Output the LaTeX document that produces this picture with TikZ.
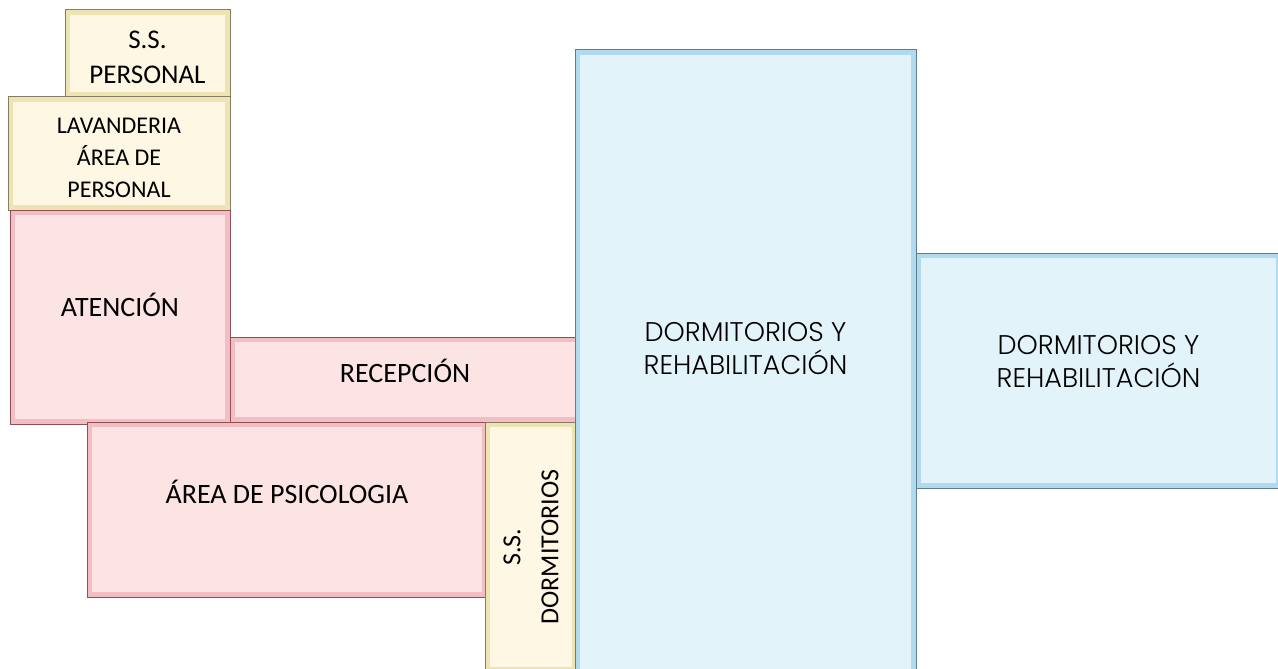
\documentclass[tikz,border=0pt]{standalone}
\usepackage{fontspec}
\setmainfont{Carlito}
\newfontfamily\gothic{Poppins Light}
\usetikzlibrary{positioning}

\definecolor{creamfill}{RGB}{253,247,227}
\definecolor{creamedge}{RGB}{238,228,178}
\definecolor{creamline}{RGB}{130,125,100}
\definecolor{pinkfill}{RGB}{252,228,229}
\definecolor{pinkedge}{RGB}{242,190,195}
\definecolor{pinkline}{RGB}{140,80,85}
\definecolor{bluefill}{RGB}{227,243,250}
\definecolor{blueedge}{RGB}{178,218,238}
\definecolor{blueline}{RGB}{95,125,140}

\begin{document}
\begin{tikzpicture}[x=1pt,y=-1pt,
    room/.style n args={3}{fill=#2,draw=#3,line width=1pt,anchor=north west,
      inner sep=0pt,outer sep=0pt,
      path picture={\fill[#1] ([shift={(5pt,-5pt)}]path picture bounding box.north west)
        rectangle ([shift={(-5pt,5pt)}]path picture bounding box.south east);}},
    yroom/.style={room={creamfill}{creamedge}{creamline}},
    proom/.style={room={pinkfill}{pinkedge}{pinkline}},
    broom/.style={room={bluefill}{blueedge}{blueline}},
    size/.style 2 args={minimum width=#1pt,minimum height=#2pt},
    lbl/.style={align=center,text=black,inner sep=0pt}
]
\useasboundingbox (0,0) rectangle (1278,669);

% rooms, left wing
\node[yroom,size={165}{87}] (ssper) at (65,10) {};
\node[yroom,size={222}{113}] (lav) at (8,97) {};
\node[proom,size={220}{214}] (aten) at (10,210) {};
\node[proom,size={350}{85}] (recep) at (230,337) {};
\node[proom,size={400}{175}] (psico) at (87,422) {};
\node[yroom,size={92}{250}] (ssdor) at (485,422) {};

% rooms, dormitories
\node[broom,size={341}{625}] (dorm) at (575,50) {};
\node[broom,size={365}{235}] (dormB) at (916,253) {};

% labels
\node[lbl,font=\fontsize{27}{35}\selectfont] (ssperT) at ([yshift=-4pt]ssper.center) {S.S.\\PERSONAL};
\node[lbl,font=\fontsize{24}{32}\selectfont] (lavT) at ([yshift=-4pt]lav.center) {LAVANDERIA\\ÁREA DE\\PERSONAL};
\node[lbl,font=\fontsize{28}{32}\selectfont] (atenT) at ([yshift=12pt]aten.center) {ATENCIÓN};
\node[lbl,font=\fontsize{28}{32}\selectfont] (recepT) at ([yshift=9pt]recep.center) {RECEPCIÓN};
\node[lbl,font=\fontsize{28}{32}\selectfont] (psicoT) at ([yshift=18pt]psico.center) {ÁREA DE PSICOLOGIA};
\node[lbl,rotate=90,font=\fontsize{26}{38}\selectfont] (ssdorT) at (ssdor.center) {S.S.\\DORMITORIOS};
\node[lbl,font=\gothic\fontsize{27}{33}\selectfont] (dormT) at ([yshift=14pt]dorm.center) {DORMITORIOS Y\\REHABILITACIÓN};
\node[lbl,font=\gothic\fontsize{27}{33}\selectfont] (dormBT) at ([yshift=9pt]dormB.center) {DORMITORIOS Y\\REHABILITACIÓN};
\end{tikzpicture}
\end{document}
